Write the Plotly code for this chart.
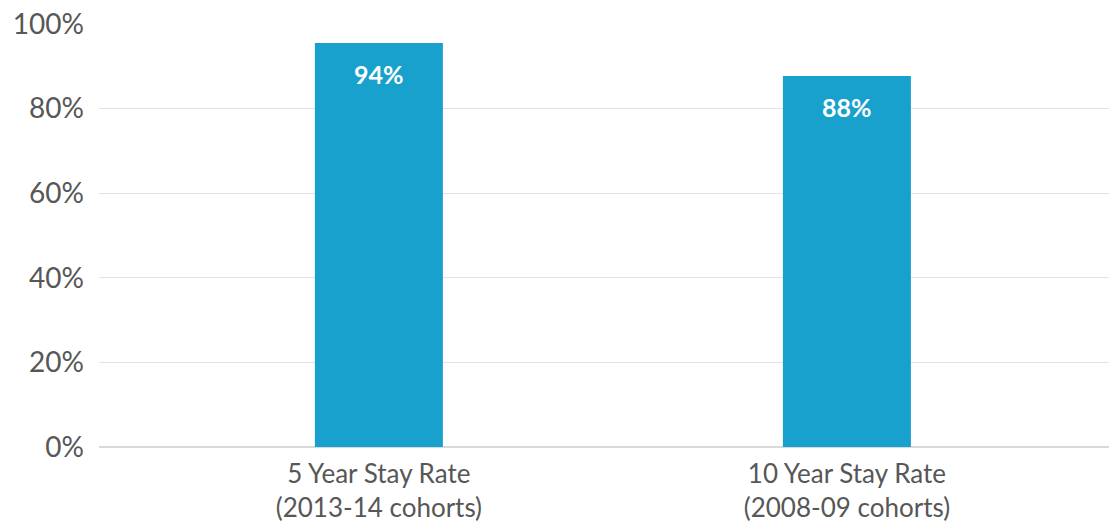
import plotly.graph_objects as go

categories = ["5 Year Stay Rate<br>(2013-14 cohorts)", "10 Year Stay Rate<br>(2008-09 cohorts)"]
values = [95.5, 87.7]
bar_labels = ["94%", "88%"]
y_ticks = [0, 20, 40, 60, 80, 100]
y_tick_labels = ["0%", "20%", "40%", "60%", "80%", "100%"]

FONT = "Lato"
TEXT = "#575757"
BAR = "#19a1ce"

fig = go.Figure()
fig.add_trace(go.Bar(
    x=[0, 1], y=values, width=0.2735, marker=dict(color=BAR, line=dict(width=0)),
    hoverinfo="skip",
))
for i, (v, lab) in enumerate(zip(values, bar_labels)):
    fig.add_annotation(x=i, y=v, text=f"<b>{lab}</b>", showarrow=False,
                       yanchor="middle", yshift=-31,
                       font=dict(family=FONT, size=25, color="white"))

fig.update_layout(
    width=1109, height=525,
    margin=dict(l=99, r=0, t=24, b=78, autoexpand=False),
    paper_bgcolor="white", plot_bgcolor="white",
    showlegend=False,
    font=dict(family=FONT, color=TEXT),
    xaxis=dict(range=[-0.598, 1.560], tickvals=[0, 1], ticktext=categories,
               showgrid=False, zeroline=False, showline=False, automargin=False,
               tickfont=dict(family=FONT, size=26, color=TEXT),
               ticks="", ticklabelstandoff=9),
    yaxis=dict(range=[0, 100], tickvals=y_ticks, ticktext=y_tick_labels,
               showgrid=True, gridcolor="#e3e3e3", gridwidth=1,
               zeroline=True, zerolinecolor="#d9d9d9", zerolinewidth=1.5,
               showline=False, ticks="", ticklabelstandoff=14, automargin=False,
               tickfont=dict(family=FONT, size=28, color=TEXT)),
)

fig.write_html("out.html")
